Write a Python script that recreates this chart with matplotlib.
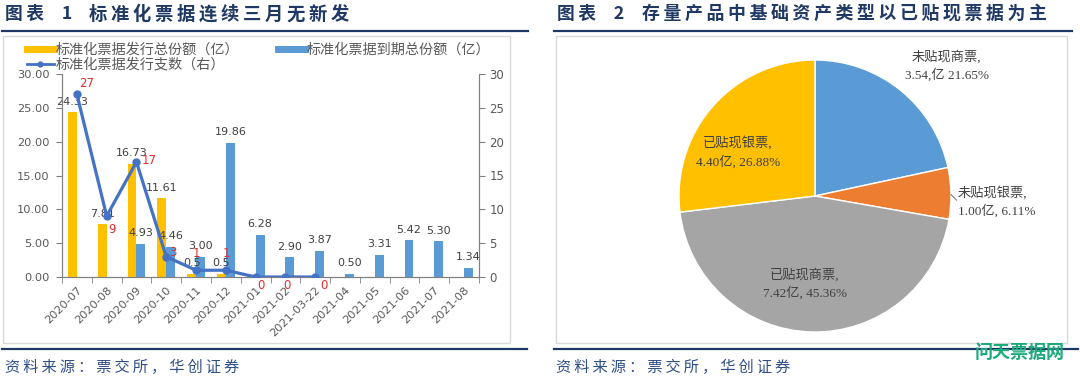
import numpy as np
import matplotlib
matplotlib.use('Agg')
import matplotlib.pyplot as plt
from matplotlib.lines import Line2D
from matplotlib.patches import Rectangle

plt.rcParams['font.family'] = ['DejaVu Sans', 'Noto Sans CJK SC']

# ---- data: chart 1 ----
months = ['2020-07', '2020-08', '2020-09', '2020-10', '2020-11', '2020-12', '2021-01',
          '2021-02', '2021-03-22', '2021-04', '2021-05', '2021-06', '2021-07', '2021-08']
issue_amt = [24.33, 7.81, 16.73, 11.61, 0.5, 0.5, 0, 0, 0, 0, 0, 0, 0, 0]
issue_lbl = ['24.33', '7.81', '16.73', '11.61', '0.5', '0.5', '', '', '', '', '', '', '', '']
mature_amt = [0, 0, 4.93, 4.46, 3.00, 19.86, 6.28, 2.90, 3.87, 0.50, 3.31, 5.42, 5.30, 1.34]
issue_cnt = [27, 9, 17, 3, 1, 1, 0, 0, 0, np.nan, np.nan, np.nan, np.nan, np.nan]

# ---- data: chart 2 ----
pie_names = ['未贴现商票', '未贴现银票', '已贴现商票', '已贴现银票']
pie_amt = [3.54, 1.00, 7.42, 4.40]
pie_pct = [21.65, 6.11, 45.36, 26.88]

YELLOW = '#FFC000'
BLUE = '#5B9BD5'
LINE = '#4472C4'
NAVY = '#1F3864'
GREY_TXT = '#595959'
AX_COL = '#808080'

W, H = 1080, 378


def px(x, y):
    return x / W, 1 - y / H


fig = plt.figure(figsize=(10.8, 3.78), dpi=100)

# frames and rules
for x0, x1 in [(3, 510), (556, 1067)]:
    fig.patches.append(Rectangle(px(x0, 343), (x1 - x0) / W, (343 - 36) / H,
                                 transform=fig.transFigure, fill=False,
                                 edgecolor='#D9D9D9', lw=1))
for (x0, x1, y) in [(2, 528, 31), (2, 527, 349), (554, 1072, 31), (554, 1078, 349)]:
    fig.add_artist(Line2D([x0 / W, x1 / W], [1 - y / H, 1 - y / H],
                          transform=fig.transFigure, color=NAVY, lw=1.6))

# titles
tfam = ['Noto Sans CJK SC', 'DejaVu Sans']
fig.text(*px(5, 14), '图\u2009表\u20031', fontsize=12.8, weight='bold', color=NAVY,
         family=tfam, va='center', ha='left')
fig.text(*px(89, 14), '\u2009'.join('标准化票据连续三月无新发'), fontsize=13.2,
         weight='bold', color=NAVY, family=tfam, va='center', ha='left')
fig.text(*px(557, 14), '图\u2009表\u20032', fontsize=12.8, weight='bold', color=NAVY,
         family=tfam, va='center', ha='left')
fig.text(*px(642, 14), '\u2009'.join('存量产品中基础资产类型以已贴现票据为主'), fontsize=12.9,
         weight='bold', color=NAVY, family=tfam, va='center', ha='left')

# sources
for x in (5, 556):
    fig.text(*px(x, 367), '\u2009'.join('资料来源：票交所，华创证券'), fontsize=11,
             color='#2F4F86', family=tfam, style='italic', va='center', ha='left')
fig.text(*px(1020, 352), '问天票据网', fontsize=13, weight='bold', color='#1DAA7C',
         family=tfam, va='center', ha='center')

# ---- chart 1 ----
ax = fig.add_axes([62 / W, 1 - 277 / H, (479 - 62) / W, (277 - 74) / H])
x = np.arange(len(months))
bw = 0.3
b1 = ax.bar(x - bw / 2, issue_amt, bw, color=YELLOW, zorder=2)
b2 = ax.bar(x + bw / 2, mature_amt, bw, color=BLUE, zorder=2)
ax.bar_label(b1, labels=issue_lbl, padding=4, fontsize=8, color='#404040')
ax.bar_label(b2, labels=[f'{v:.2f}' if v else '' for v in mature_amt],
             padding=4, fontsize=8, color='#404040')
ax.set_xlim(-0.5, len(months) - 0.5)
ax.set_ylim(0, 30)
ax.set_yticks(np.arange(0, 31, 5))
ax.set_yticklabels([f'{v:.2f}' for v in np.arange(0, 31, 5)])
ax.set_xticks(x)
ax.set_xticklabels(months, rotation=45, ha='right', va='top', rotation_mode='anchor')
ax.set_xticks(np.arange(len(months) + 1) - 0.5, minor=True)
ax.tick_params(axis='x', which='major', length=0, pad=6, labelsize=8.2, labelcolor=GREY_TXT)
ax.tick_params(axis='x', which='minor', length=4, color=AX_COL)
ax.tick_params(axis='y', length=4, pad=5, labelsize=8.2, labelcolor=GREY_TXT, color=AX_COL)
ax.spines['top'].set_visible(False)
for s in ['left', 'bottom', 'right']:
    ax.spines[s].set_color(AX_COL)

ax2 = ax.twinx()
ax2.plot(x, issue_cnt, color=LINE, lw=2.3, marker='o', ms=5, zorder=3)
ax2.set_ylim(0, 30)
ax2.set_yticks(np.arange(0, 31, 5))
ax2.tick_params(axis='y', length=4, pad=3.5, labelsize=8.5, labelcolor=GREY_TXT, color=AX_COL)
ax2.spines['top'].set_visible(False)
for s in ['left', 'bottom', 'right']:
    ax2.spines[s].set_color(AX_COL)
cnt_off = [(7, 8), (3.5, -10), (9, 1), (4.5, 3), (0, 12), (0.5, 12), (3.5, -6), (1, -6), (6, -6)]
for i, v in enumerate(issue_cnt):
    if np.isnan(v):
        continue
    ax2.annotate(f'{v:.0f}', (x[i], v), xytext=cnt_off[i], textcoords='offset points',
                 ha='center', va='center', fontsize=8.5, color='#E0302A')

handles = [Line2D([], [], color=YELLOW, lw=5),
           Line2D([], [], color=LINE, lw=2, marker='o', ms=3.5),
           Line2D([], [], color=BLUE, lw=5)]
labels = ['标准化票据发行总份额（亿）', '标准化票据发行支数（右）', '标准化票据到期总份额（亿）']
fig.legend(handles, labels, loc='upper left', bbox_to_anchor=px(27, 43), ncol=2,
           frameon=False, fontsize=10.2, handlelength=1.9, handletextpad=0.15,
           columnspacing=2.7, labelspacing=0.05, borderpad=0, borderaxespad=0,
           labelcolor=GREY_TXT)

# ---- chart 2 ----
r = 136
cx, cy = 815, 196
axp = fig.add_axes([(cx - r) / W, 1 - (cy + r) / H, 2 * r / W, 2 * r / H])
axp.pie(pie_amt, colors=[BLUE, '#ED7D31', '#A5A5A5', YELLOW], startangle=90,
        counterclock=False, wedgeprops=dict(edgecolor='white', linewidth=1))
axp.set_xlim(-1, 1)
axp.set_ylim(-1, 1)
pfam = ['Liberation Serif', 'Noto Sans CJK SC']
ptxt = dict(fontsize=9.5, color='#404040', family=pfam, va='center', linespacing=1.45)
axp.text(0.97, 0.956, f'{pie_names[0]},\n{pie_amt[0]:.2f},亿 {pie_pct[0]:.2f}%', ha='center', **ptxt)
axp.text(1.05, -0.044, f'{pie_names[1]},\n{pie_amt[1]:.2f}亿, {pie_pct[1]:.2f}%', ha='left', **ptxt)
axp.plot([1.0, 1.04], [0.01, -0.03], color='#7F7F7F', lw=0.8, clip_on=False)
axp.text(-0.074, -0.647, f'{pie_names[2]},\n{pie_amt[2]:.2f}亿, {pie_pct[2]:.2f}%', ha='center', **ptxt)
axp.text(-0.566, 0.32, f'{pie_names[3]},\n{pie_amt[3]:.2f}亿, {pie_pct[3]:.2f}%', ha='center', **ptxt)

fig.savefig('out.png', dpi=100)
